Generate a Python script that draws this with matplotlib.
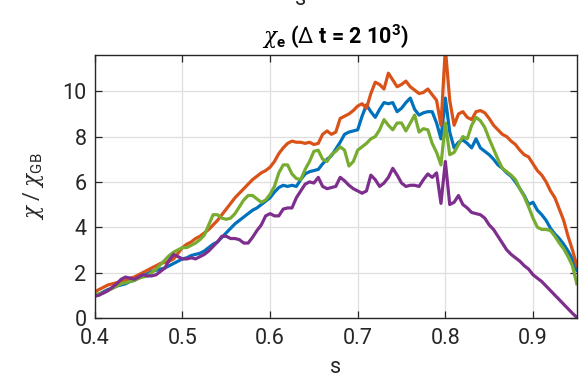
import numpy as np
import matplotlib.pyplot as plt

plt.rcParams['font.family'] = ['Roboto', 'DejaVu Sans']
plt.rcParams['mathtext.fontset'] = 'custom'
plt.rcParams['mathtext.rm'] = 'Roboto'
plt.rcParams['mathtext.it'] = 'DejaVu Serif:italic'
plt.rcParams['mathtext.bf'] = 'Roboto:bold'

# radial coordinate s, sampled every 0.005
s = np.round(np.arange(0.40, 0.9501, 0.005), 3)

chi_orange = [1.15, 1.25, 1.35, 1.45, 1.5, 1.55, 1.6, 1.65, 1.75, 1.8,
              1.9, 2.0, 2.1, 2.2, 2.3, 2.4, 2.45, 2.5, 2.6, 2.85,
              3.1, 3.25, 3.35, 3.5, 3.6, 3.75, 3.9, 4.1, 4.3, 4.55,
              4.8, 5.05, 5.3, 5.5, 5.7, 5.9, 6.1, 6.25, 6.4, 6.5,
              6.65, 6.9, 7.25, 7.5, 7.7, 7.8, 7.75, 7.75, 7.7, 7.75,
              7.65, 7.7, 8.1, 8.25, 8.1, 8.2, 8.8, 8.9, 9.0, 9.15,
              9.35, 9.45, 9.25, 9.9, 10.4, 10.3, 10.1, 10.8, 10.5, 10.2,
              10.3, 10.45, 10.2, 10.05, 9.9, 9.95, 10.1, 9.85, 9.6, 8.5,
              11.9, 9.6, 8.5, 9.0, 9.1, 8.85, 8.75, 9.1, 9.15, 9.05,
              8.8, 8.5, 8.3, 8.1, 8.0, 7.8, 7.65, 7.4, 7.2, 7.1,
              6.8, 6.5, 6.3, 6.0, 5.6, 5.3, 4.8, 4.3, 3.6, 3.0,
              2.3]

chi_blue = [1.0, 1.05, 1.15, 1.25, 1.3, 1.4, 1.45, 1.5, 1.6, 1.65,
            1.75, 1.85, 1.95, 2.05, 2.1, 2.15, 2.2, 2.3, 2.4, 2.5,
            2.6, 2.65, 2.75, 2.8, 2.85, 2.95, 3.1, 3.25, 3.35, 3.55,
            3.75, 3.95, 4.15, 4.3, 4.45, 4.6, 4.75, 4.85, 5.0, 5.15,
            5.3, 5.55, 5.75, 5.85, 5.8, 5.85, 5.8, 6.1, 6.35, 6.45,
            6.5, 6.55, 6.8, 7.0, 7.15, 7.45, 7.75, 8.1, 8.2, 8.25,
            8.3, 8.9, 9.4, 9.1, 8.85, 9.2, 9.5, 9.45, 9.5, 9.1,
            9.25, 9.5, 9.7, 9.2, 8.95, 9.05, 9.1, 9.1, 8.6, 7.9,
            9.7, 8.2, 7.5, 7.75, 7.85, 7.7, 7.5, 7.9, 7.5, 7.35,
            7.2, 7.0, 6.75, 6.6, 6.4, 6.25, 6.0, 5.7, 5.4, 5.0,
            5.1, 4.75, 4.55, 4.3, 3.95, 3.7, 3.5, 3.25, 2.95, 2.6,
            2.1]

chi_green = [1.05, 1.05, 1.1, 1.2, 1.3, 1.4, 1.5, 1.55, 1.6, 1.65,
             1.75, 1.8, 1.85, 2.0, 2.15, 2.35, 2.55, 2.75, 2.9, 3.0,
             3.1, 3.1, 3.2, 3.3, 3.45, 3.65, 4.1, 4.55, 4.55, 4.4,
             4.35, 4.4, 4.6, 4.9, 5.2, 5.4, 5.4, 5.25, 5.1, 5.2,
             5.45, 5.8, 6.4, 6.75, 6.75, 6.35, 6.15, 6.1, 6.55, 6.9,
             7.35, 7.4, 7.0, 6.9, 7.2, 7.35, 7.55, 7.4, 6.7, 6.9,
             7.4, 7.55, 7.7, 7.9, 8.0, 8.3, 8.75, 8.5, 8.3, 8.6,
             8.6, 8.25, 8.6, 8.95, 8.2, 8.35, 8.3, 7.7, 7.3, 6.75,
             8.6, 7.2, 7.3, 7.65, 8.0, 7.9, 8.5, 8.85, 8.7, 8.4,
             7.9, 7.45, 7.0, 6.6, 6.45, 6.3, 6.1, 5.7, 5.35, 4.9,
             4.4, 4.0, 3.9, 3.9, 3.85, 3.6, 3.3, 3.05, 2.7, 2.3,
             1.5]

chi_purple = [0.95, 1.0, 1.1, 1.2, 1.35, 1.5, 1.7, 1.8, 1.75, 1.7,
              1.8, 1.9, 1.85, 1.85, 1.9, 2.05, 2.2, 2.55, 2.8, 2.7,
              2.6, 2.6, 2.65, 2.6, 2.7, 2.8, 2.95, 3.15, 3.35, 3.6,
              3.6, 3.5, 3.5, 3.45, 3.3, 3.3, 3.55, 3.85, 4.1, 4.5,
              4.6, 4.5, 4.5, 4.8, 4.85, 4.85, 5.3, 5.6, 5.9, 6.0,
              5.95, 6.2, 5.8, 5.7, 5.75, 5.8, 6.2, 6.05, 5.85, 5.7,
              5.6, 5.5, 5.6, 6.3, 6.1, 5.8, 5.95, 6.2, 6.6, 6.3,
              5.95, 5.8, 5.85, 5.85, 5.8, 6.1, 6.35, 6.2, 6.4, 5.05,
              6.9, 5.0, 5.1, 5.4, 5.0, 4.85, 4.65, 4.6, 4.55, 4.4,
              4.1, 3.9, 3.6, 3.3, 3.0, 2.8, 2.65, 2.5, 2.3, 2.15,
              1.9, 1.75, 1.6, 1.4, 1.2, 1.0, 0.8, 0.6, 0.4, 0.2,
              0.02]

x_ticks = [0.4, 0.5, 0.6, 0.7, 0.8, 0.9]
y_ticks = [0, 2, 4, 6, 8, 10]

dark = '#262626'

fig = plt.figure(figsize=(5.85, 3.77), dpi=100)
ax = fig.add_axes([0.162, 0.157, 0.824, 0.697])

ax.plot(s, chi_blue, color='#0072BD', lw=2.3)
ax.plot(s, chi_orange, color='#D95319', lw=2.3)
ax.plot(s, chi_green, color='#77AC30', lw=2.3)
ax.plot(s, chi_purple, color='#7E2F8E', lw=2.3)

ax.set_xlim(0.4, 0.95)
ax.set_ylim(0, 11.6)
ax.set_xticks(x_ticks)
ax.set_yticks(y_ticks)
ax.set_xticklabels([f'{t:g}' for t in x_ticks])
ax.grid(True, color='#dfdfdf', lw=0.9)
ax.set_axisbelow(True)
ax.tick_params(direction='in', length=5, width=0.9, colors=dark,
               labelsize=15.5, top=True, right=True)
ax.tick_params(axis='x', pad=7)
ax.tick_params(axis='y', pad=6)
for sp in ax.spines.values():
    sp.set_color(dark)
    sp.set_linewidth(1.0)

ax.set_xlabel('s', fontsize=15.5, color=dark, labelpad=6)
ax.set_ylabel(r'$\chi$ / $\chi_{\rm GB}$', fontsize=15.5, color=dark, labelpad=12)
ax.set_title(r'$\chi_{\bf e}$ ($\Delta$ t = 2 10$^{\bf 3}$)', fontsize=15.5,
             fontweight='bold', color='black', pad=8)

# top line of the heading, clipped by the figure edge
fig.text(0.513, 1 - 5 / 377, 's', fontsize=15.5, ha='center', va='baseline', color=dark)

fig.savefig('out.png', dpi=100)
